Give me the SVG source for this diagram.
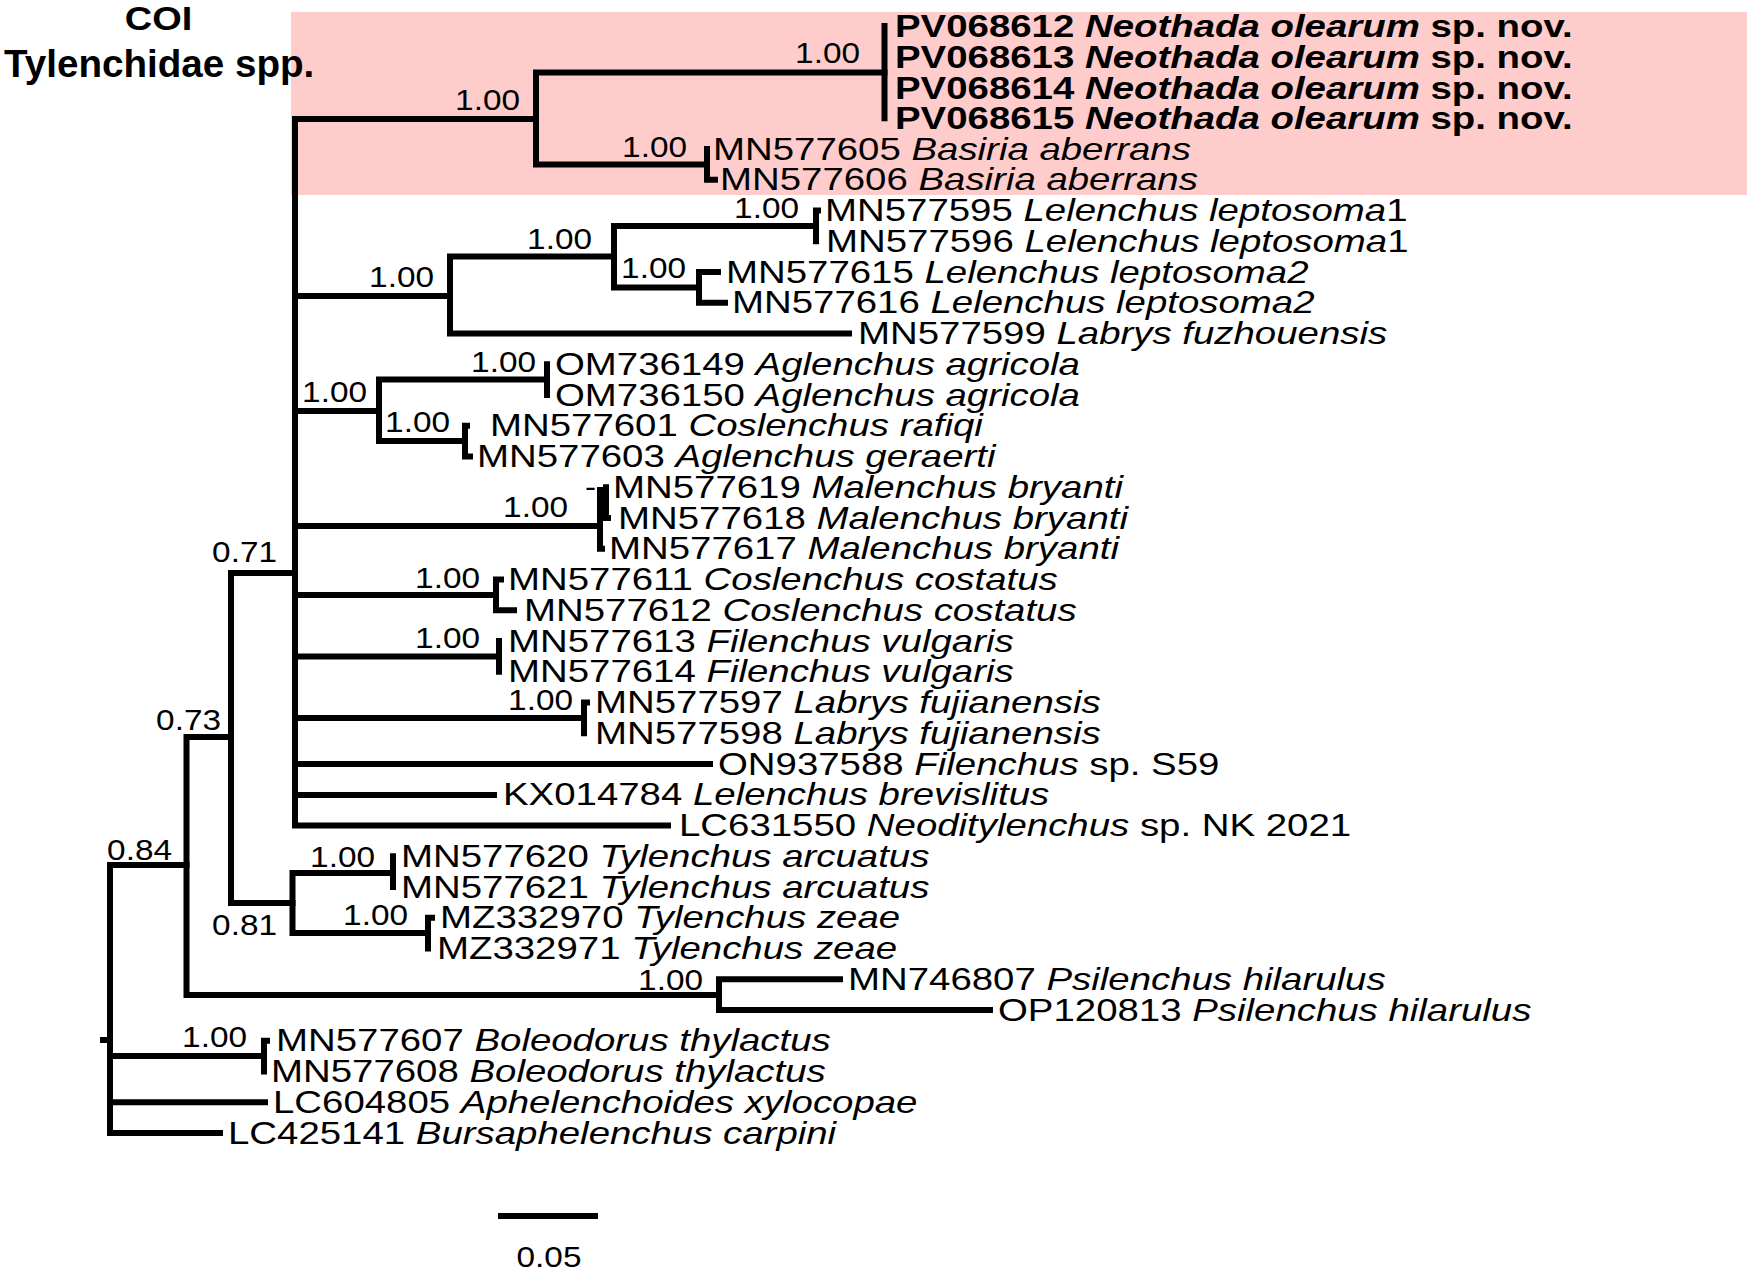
<svg xmlns="http://www.w3.org/2000/svg" width="1750" height="1271" viewBox="0 0 1750 1271">
<style>
text{font-family:"Liberation Sans",Arial,sans-serif;font-size:32px;fill:#000}
.s{font-size:29px;text-anchor:end}
.b{font-weight:bold}
.i{font-style:italic}
.c{text-anchor:middle;font-weight:bold;font-size:33px}
.h{font-weight:bold;font-size:39px}
#connectors path{fill:none;stroke:#000;stroke-width:6;stroke-linecap:square;stroke-linejoin:miter}
</style>
<rect x="291" y="12" width="1456" height="183" fill="#ffcccc"/>
<g id="title">
<text class="c" transform="matrix(1.15 0 0 1 158.5 30)">COI</text>
<text class="h" transform="matrix(0.99 0 0 1 4 77)">Tylenchidae spp.</text>
</g>
<g id="connectors">
<path d="M103 1040H110M110 865V1133M110 865H186.5M110 1056H264M110 1102.25H265M110 1133H220"/>
<path d="M264 1040.75V1071.5M264 1040.75H267"/>
<path d="M186.5 737V995M186.5 737H231M186.5 995H719"/>
<path d="M719 979.25V1010M719 979.25H840M719 1010H990"/>
<path d="M231 573V903M231 573H295M231 903H292.5"/>
<path d="M292.5 873V933M292.5 873H393M292.5 933H428"/>
<path d="M393 856.25V887"/>
<path d="M428 917.75V948.5M428 917.75H432"/>
<path d="M295 119V825.5M295 119H536M295 296H450M295 411H379M295 526H600M295 595H496M295 656.5H499M295 718H584M295 764H710M295 795H494M295 825.5H668"/>
<path d="M536 72.5V164.4M536 72.5H884.5M536 164.4H707"/>
<path d="M884.5 26V118.25"/>
<path d="M707 149V179.75M707 179.75H715"/>
<path d="M450 256.6V333.5M450 256.6H614M450 333.5H849"/>
<path d="M614 226V287.4M614 226H816M614 287.4H699"/>
<path d="M816 210.5V241.25M816 210.5H818"/>
<path d="M699 272V302.75M699 272H718M699 302.75H725"/>
<path d="M379 379.6V441.1M379 379.6H547M379 441.1H465"/>
<path d="M547 364.25V395"/>
<path d="M465 425.75V456.5M465 425.75H467M465 456.5H470"/>
<path d="M600 490V548.75M600 502.6H606M600 548.75H602"/>
<path d="M606 487.25V518M606 518H608"/>
<path d="M496 579.5V610.25M496 579.5H501M496 610.25H514"/>
<path d="M499 641V671.75"/>
<path d="M584 702.5V733.25M584 702.5H587"/>
<path d="M501 1216H595"/>
</g>
<g id="support">
<text class="s" transform="matrix(1.15 0 0 1 860 63)">1.00</text>
<text class="s" transform="matrix(1.15 0 0 1 520 110)">1.00</text>
<text class="s" transform="matrix(1.15 0 0 1 687 157)">1.00</text>
<text class="s" transform="matrix(1.15 0 0 1 799 218)">1.00</text>
<text class="s" transform="matrix(1.15 0 0 1 592 249)">1.00</text>
<text class="s" transform="matrix(1.15 0 0 1 686 278)">1.00</text>
<text class="s" transform="matrix(1.15 0 0 1 434 287)">1.00</text>
<text class="s" transform="matrix(1.15 0 0 1 536 372)">1.00</text>
<text class="s" transform="matrix(1.15 0 0 1 367 402)">1.00</text>
<text class="s" transform="matrix(1.15 0 0 1 450 432)">1.00</text>
<text class="s" transform="matrix(1.15 0 0 1 596 497)">-</text>
<text class="s" transform="matrix(1.15 0 0 1 568 517)">1.00</text>
<text class="s" transform="matrix(1.15 0 0 1 277 562)">0.71</text>
<text class="s" transform="matrix(1.15 0 0 1 480 588)">1.00</text>
<text class="s" transform="matrix(1.15 0 0 1 480 648)">1.00</text>
<text class="s" transform="matrix(1.15 0 0 1 573 710)">1.00</text>
<text class="s" transform="matrix(1.15 0 0 1 221 730)">0.73</text>
<text class="s" transform="matrix(1.15 0 0 1 172 860)">0.84</text>
<text class="s" transform="matrix(1.15 0 0 1 375 867)">1.00</text>
<text class="s" transform="matrix(1.15 0 0 1 408 925)">1.00</text>
<text class="s" transform="matrix(1.15 0 0 1 277 935)">0.81</text>
<text class="s" transform="matrix(1.15 0 0 1 703 990)">1.00</text>
<text class="s" transform="matrix(1.15 0 0 1 247 1047)">1.00</text>
</g>
<g id="n1"><text class="b" transform="matrix(1.2 0 0 1 895 37)">PV068612 <tspan class="i">Neothada olearum</tspan> sp. nov.</text></g>
<g id="n2"><text class="b" transform="matrix(1.2 0 0 1 895 67.75)">PV068613 <tspan class="i">Neothada olearum</tspan> sp. nov.</text></g>
<g id="n3"><text class="b" transform="matrix(1.2 0 0 1 895 98.5)">PV068614 <tspan class="i">Neothada olearum</tspan> sp. nov.</text></g>
<g id="n4"><text class="b" transform="matrix(1.2 0 0 1 895 129.25)">PV068615 <tspan class="i">Neothada olearum</tspan> sp. nov.</text></g>
<g id="n5"><text transform="matrix(1.2 0 0 1 713 159.5)">MN577605 <tspan class="i">Basiria aberrans</tspan></text></g>
<g id="n6"><text transform="matrix(1.2 0 0 1 720 190.25)">MN577606 <tspan class="i">Basiria aberrans</tspan></text></g>
<g id="n7"><text transform="matrix(1.2 0 0 1 825 221)">MN577595 <tspan class="i">Lelenchus leptosoma</tspan>1</text></g>
<g id="n8"><text transform="matrix(1.2 0 0 1 826 251.75)">MN577596 <tspan class="i">Lelenchus leptosoma</tspan>1</text></g>
<g id="n9"><text transform="matrix(1.2 0 0 1 726 282.5)">MN577615 <tspan class="i">Lelenchus leptosoma2</tspan></text></g>
<g id="n10"><text transform="matrix(1.2 0 0 1 732 313.25)">MN577616 <tspan class="i">Lelenchus leptosoma2</tspan></text></g>
<g id="n11"><text transform="matrix(1.2 0 0 1 858 344)">MN577599 <tspan class="i">Labrys fuzhouensis</tspan></text></g>
<g id="n12"><text transform="matrix(1.2 0 0 1 555 374.75)">OM736149 <tspan class="i">Aglenchus agricola</tspan></text></g>
<g id="n13"><text transform="matrix(1.2 0 0 1 555 405.5)">OM736150 <tspan class="i">Aglenchus agricola</tspan></text></g>
<g id="n14"><text transform="matrix(1.2 0 0 1 490 436.25)">MN577601 <tspan class="i">Coslenchus rafiqi</tspan></text></g>
<g id="n15"><text transform="matrix(1.2 0 0 1 477 467)">MN577603 <tspan class="i">Aglenchus geraerti</tspan></text></g>
<g id="n16"><text transform="matrix(1.2 0 0 1 613 497.75)">MN577619 <tspan class="i">Malenchus bryanti</tspan></text></g>
<g id="n17"><text transform="matrix(1.2 0 0 1 618 528.5)">MN577618 <tspan class="i">Malenchus bryanti</tspan></text></g>
<g id="n18"><text transform="matrix(1.2 0 0 1 609 559.25)">MN577617 <tspan class="i">Malenchus bryanti</tspan></text></g>
<g id="n19"><text transform="matrix(1.2 0 0 1 508 590)">MN577611 <tspan class="i">Coslenchus costatus</tspan></text></g>
<g id="n20"><text transform="matrix(1.2 0 0 1 524 620.75)">MN577612 <tspan class="i">Coslenchus costatus</tspan></text></g>
<g id="n21"><text transform="matrix(1.2 0 0 1 508 651.5)">MN577613 <tspan class="i">Filenchus vulgaris</tspan></text></g>
<g id="n22"><text transform="matrix(1.2 0 0 1 508 682.25)">MN577614 <tspan class="i">Filenchus vulgaris</tspan></text></g>
<g id="n23"><text transform="matrix(1.2 0 0 1 595 713)">MN577597 <tspan class="i">Labrys fujianensis</tspan></text></g>
<g id="n24"><text transform="matrix(1.2 0 0 1 595 743.75)">MN577598 <tspan class="i">Labrys fujianensis</tspan></text></g>
<g id="n25"><text transform="matrix(1.2 0 0 1 718 774.5)">ON937588 <tspan class="i">Filenchus</tspan> sp. S59</text></g>
<g id="n26"><text transform="matrix(1.2 0 0 1 503 805.25)">KX014784 <tspan class="i">Lelenchus brevislitus</tspan></text></g>
<g id="n27"><text transform="matrix(1.2 0 0 1 679 836)">LC631550 <tspan class="i">Neoditylenchus</tspan> sp. NK 2021</text></g>
<g id="n28"><text transform="matrix(1.2 0 0 1 401 866.75)">MN577620 <tspan class="i">Tylenchus arcuatus</tspan></text></g>
<g id="n29"><text transform="matrix(1.2 0 0 1 401 897.5)">MN577621 <tspan class="i">Tylenchus arcuatus</tspan></text></g>
<g id="n30"><text transform="matrix(1.2 0 0 1 440 928.25)">MZ332970 <tspan class="i">Tylenchus zeae</tspan></text></g>
<g id="n31"><text transform="matrix(1.2 0 0 1 437 959)">MZ332971 <tspan class="i">Tylenchus zeae</tspan></text></g>
<g id="n32"><text transform="matrix(1.2 0 0 1 848 989.75)">MN746807 <tspan class="i">Psilenchus hilarulus</tspan></text></g>
<g id="n33"><text transform="matrix(1.2 0 0 1 998 1020.5)">OP120813 <tspan class="i">Psilenchus hilarulus</tspan></text></g>
<g id="n34"><text transform="matrix(1.2 0 0 1 276 1051.25)">MN577607 <tspan class="i">Boleodorus thylactus</tspan></text></g>
<g id="n35"><text transform="matrix(1.2 0 0 1 271 1082)">MN577608 <tspan class="i">Boleodorus thylactus</tspan></text></g>
<g id="n36"><text transform="matrix(1.2 0 0 1 273 1112.75)">LC604805 <tspan class="i">Aphelenchoides xylocopae</tspan></text></g>
<g id="n37"><text transform="matrix(1.2 0 0 1 228 1143.5)">LC425141 <tspan class="i">Bursaphelenchus carpini</tspan></text></g>
<g id="scale"><text class="s" style="text-anchor:middle" transform="matrix(1.15 0 0 1 549 1267)">0.05</text></g>
</svg>
